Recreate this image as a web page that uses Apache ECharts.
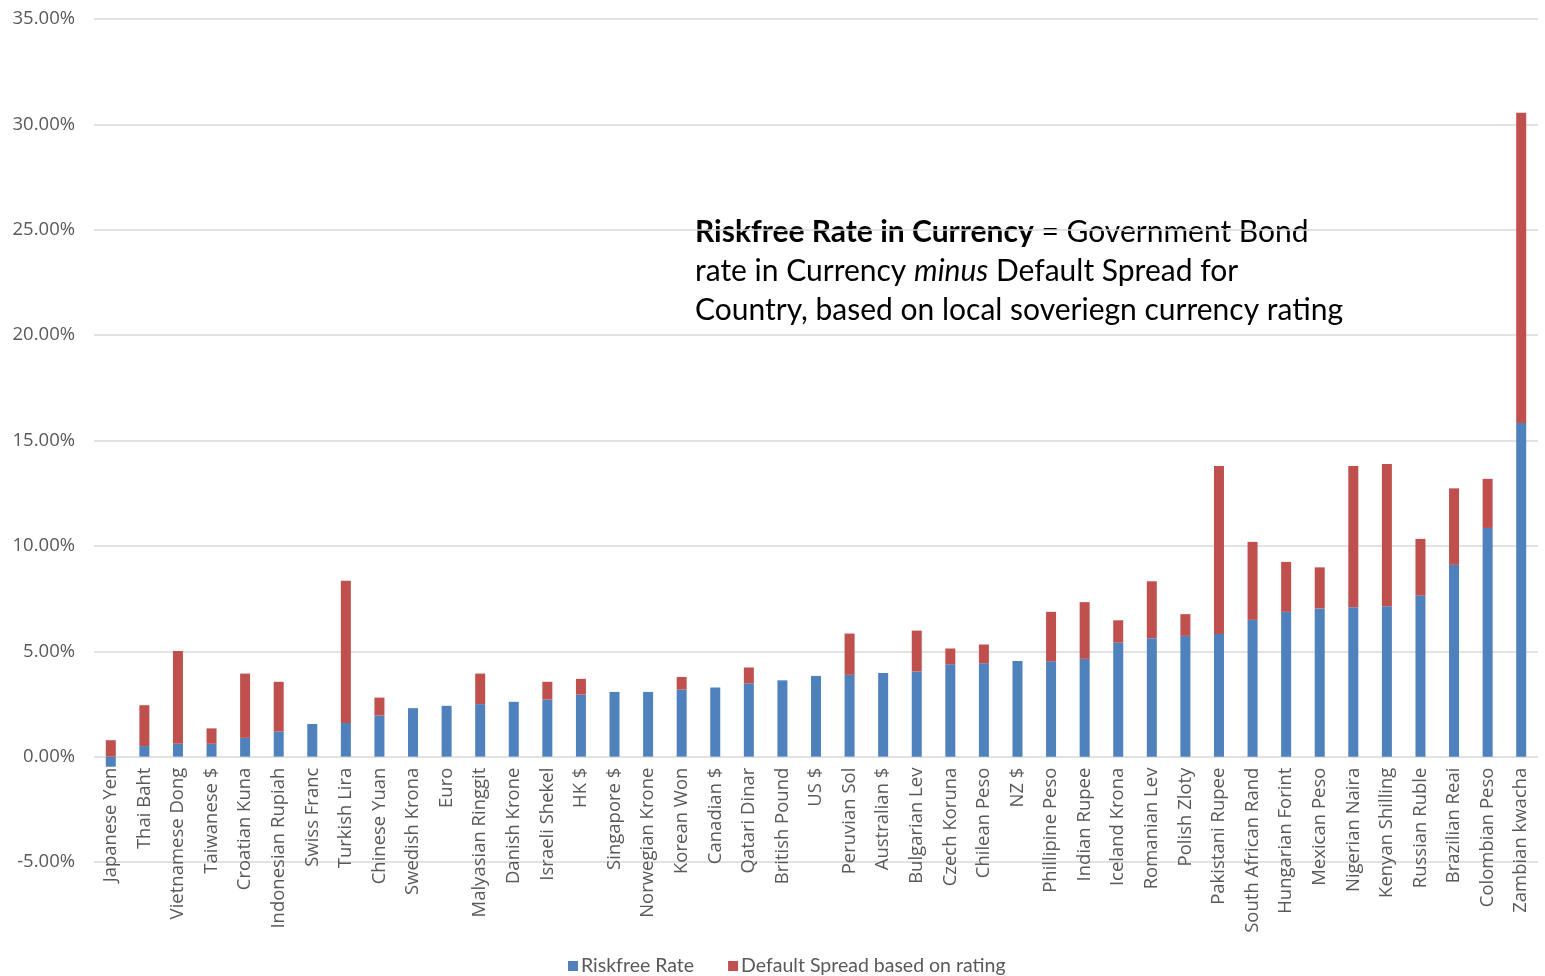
<!DOCTYPE html>
<html>
<head>
<meta charset="utf-8">
<script src="https://cdn.jsdelivr.net/npm/echarts@6/dist/echarts.min.js"></script>
<style>
html,body{margin:0;padding:0;background:#fff;}
#chart{width:1545px;height:976px;}
</style>
</head>
<body>
<div id="chart"></div>
<script>
const categories = ["Japanese Yen","Thai Baht","Vietnamese Dong","Taiwanese $","Croatian Kuna","Indonesian Rupiah","Swiss Franc","Turkish Lira","Chinese Yuan","Swedish Krona","Euro","Malyasian Ringgit","Danish Krone","Israeli Shekel","HK $","Singapore $","Norwegian Krone","Korean Won","Canadian $","Qatari Dinar","British Pound","US $","Peruvian Sol","Australian $","Bulgarian Lev","Czech Koruna","Chilean Peso","NZ $","Phillipine Peso","Indian Rupee","Iceland Krona","Romanian Lev","Polish Zloty","Pakistani Rupee","South African Rand","Hungarian Forint","Mexican Peso","Nigerian Naira","Kenyan Shilling","Russian Ruble","Brazilian Reai","Colombian Peso","Zambian kwacha"];
const riskfreeRate = [-0.48,0.50,0.61,0.61,0.89,1.19,1.55,1.60,1.95,2.30,2.41,2.49,2.60,2.71,2.94,3.07,3.07,3.18,3.28,3.48,3.62,3.83,3.88,3.97,4.04,4.38,4.43,4.54,4.52,4.64,5.41,5.62,5.73,5.82,6.49,6.87,7.03,7.09,7.13,7.64,9.10,10.85,15.83];
const defaultSpread = [0.78,1.94,4.40,0.73,3.05,2.36,0,6.75,0.85,0,0,1.45,0,0.84,0.75,0,0,0.60,0,0.75,0,0,1.96,0,1.94,0.75,0.89,0,2.35,2.69,1.06,2.70,1.03,7.97,3.70,2.37,1.95,6.70,6.76,2.69,3.63,2.33,14.72];
const yTickMin = -5, yTickMax = 35, yTickStep = 5;
const seriesNames = ["Riskfree Rate","Default Spread based on rating"];

const gridTop = 19, gridBottom = 114, chartH = 976;
// distance from bottom of plot (-5%) up to the 0% line, so category labels sit under the zero line
const zeroOffset = (chartH - gridTop - gridBottom) * (0 - yTickMin) / (yTickMax - yTickMin);

const chart = echarts.init(document.getElementById('chart'));
const labelColor = '#595959';
const option = {
  backgroundColor: '#ffffff',
  animation: false,
  grid: {left: 94, right: 7, top: gridTop, bottom: gridBottom, containLabel: false, outerBoundsMode: 'none'},
  legend: {
    data: seriesNames,
    top: 951,
    left: 563,
    icon: 'rect',
    itemWidth: 10,
    itemHeight: 10,
    itemGap: 34,
    textStyle: {fontFamily: 'Lato', fontSize: 19.5, color: labelColor, padding: [0,0,0,-2]}
  },
  xAxis: {
    type: 'category',
    data: categories,
    axisLine: {show: false},
    axisTick: {show: false},
    axisLabel: {rotate: 90, interval: 0, margin: 11 - zeroOffset, color: labelColor, fontFamily: 'Open Sans', fontSize: 18.5}
  },
  yAxis: {
    type: 'value',
    min: yTickMin, max: yTickMax, interval: yTickStep,
    axisLine: {show: false},
    axisTick: {show: false},
    splitLine: {lineStyle: {color: '#d9d9d9', width: 1.5}},
    axisLabel: {
      formatter: v => v.toFixed(2) + '%',
      color: labelColor, fontFamily: 'Open Sans', fontSize: 18.5, margin: 19
    }
  },
  series: [
    {name: seriesNames[0], type: 'bar', stack: 'total', data: riskfreeRate, barWidth: 10, itemStyle: {color: '#4F81BD'}},
    {name: seriesNames[1], type: 'bar', stack: 'total', data: defaultSpread, barWidth: 10, itemStyle: {color: '#C0504D'}}
  ],
  graphic: [
    {type: 'text', left: 695, top: 217, style: {
      rich: {b: {fontFamily: 'Lato', fontWeight: 'bold', fontSize: 30, fill: '#000'}, n: {fontFamily: 'Lato', fontSize: 30, fill: '#000'}},
      text: '{b|Riskfree Rate in Currency}{n| = Government Bond}'}},
    {type: 'text', left: 695, top: 256, style: {
      rich: {i: {fontFamily: 'Lato', fontStyle: 'italic', fontSize: 30, fill: '#000'}, n: {fontFamily: 'Lato', fontSize: 30, fill: '#000'}},
      text: '{n|rate in Currency }{i|minus}{n| Default Spread for}'}},
    {type: 'text', left: 695, top: 295, style: {
      rich: {n: {fontFamily: 'Lato', fontSize: 30, fill: '#000'}},
      text: '{n|Country, based on local soveriegn currency rating}'}}
  ]
};
chart.setOption(option);
</script>
</body>
</html>
